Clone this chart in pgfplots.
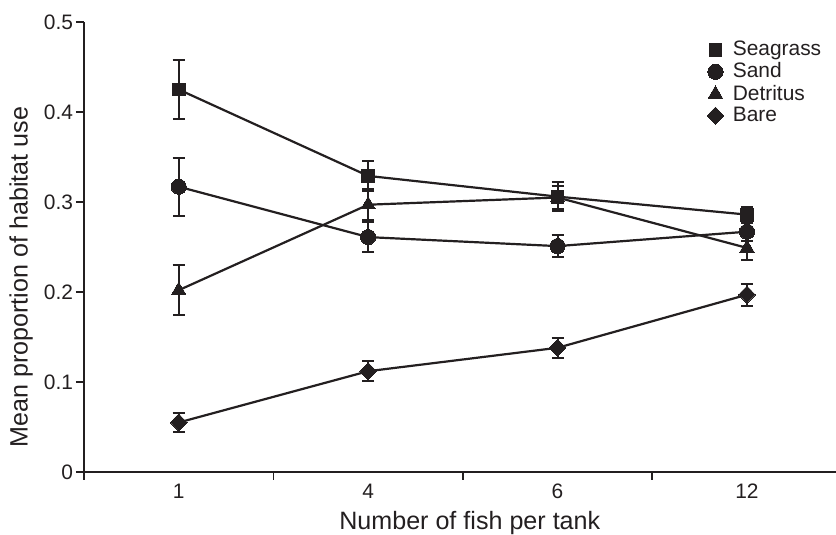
\documentclass[border=0pt]{standalone}
\usepackage{pgfplots}
\pgfplotsset{compat=1.18}
\usepackage{fontspec}
\setmainfont{Liberation Sans}
\definecolor{ink}{RGB}{35,31,32}
\begin{document}
\begin{tikzpicture}
\begin{axis}[
  at={(0,0)}, anchor=south west,
  width=376bp, height=225bp, scale only axis,
  xmin=-0.5, xmax=3.47, ymin=0, ymax=0.5,
  axis lines*=left,
  axis line style={ink, line width=1bp, -},
  xtick={0,1,2,3}, xticklabels={1,4,6,12},
  major x tick style={draw=none},
  minor xtick={-0.5,0.5,1.5,2.5},
  minor x tick style={ink, line width=0.9bp},
  ytick={0,0.1,0.2,0.3,0.4,0.5},
  yticklabels={0,0.1,0.2,0.3,0.4,0.5},
  y tick style={ink, line width=0.9bp},
  tick align=outside,
  major tick length=4bp, minor tick length=4bp,
  /pgf/number format/assume math mode=true,
  ticklabel style={font=\fontsize{10.5}{12}\selectfont, text=ink},
  xticklabel style={yshift=1.5bp},
  yticklabel style={xshift=2bp},
  xlabel={Number of fish per tank},
  ylabel={Mean proportion of habitat use},
  label style={font=\fontsize{12.6}{14}\selectfont, text=ink},
  xlabel style={at={(axis description cs:0.513,-0.113)}, anchor=center},
  ylabel style={at={(axis description cs:-0.0835,0.433)}, anchor=center, rotate=0},
  clip=false,
  legend style={draw=none, fill=none, at={(axis description cs:0.828,0.967)}, anchor=north west,
    font=\fontsize{10.5}{12}\selectfont, text=ink, row sep=-2bp, inner sep=0pt,
    /tikz/every odd column/.append style={column sep=2.5bp},
    /tikz/every even column/.append style={column sep=0bp}},
  legend cell align=left,
  legend image code/.code={\draw[mark repeat=2,mark phase=2,#1,only marks] plot coordinates {(0cm,0cm) (0.15cm,0cm) (0.3cm,0cm)};},
  error bars/error bar style={ink, line width=1bp},
  error bars/error mark options={rotate=90, mark size=3bp, line width=1bp, ink},
]
\addplot[ink, line width=1.1bp, mark=square*, mark size=3.2bp, mark options={fill=ink, draw=ink, line width=0pt},
  error bars/.cd, y dir=both, y explicit]
  coordinates {(0,0.425) +- (0,0.033) (1,0.329) +- (0,0.017) (2,0.306) +- (0,0.016) (3,0.286) +- (0,0.009)};
\addlegendentry{Seagrass}
\addplot[ink, line width=1.1bp, mark=*, mark size=3.8bp, mark options={fill=ink, draw=ink, line width=0pt},
  error bars/.cd, y dir=both, y explicit]
  coordinates {(0,0.317) +- (0,0.032) (1,0.261) +- (0,0.017) (2,0.251) +- (0,0.012) (3,0.267) +- (0,0.010)};
\addlegendentry{Sand}
\addplot[ink, line width=1.1bp, mark=triangle*, mark size=4.1bp, mark options={fill=ink, draw=ink, line width=0pt},
  error bars/.cd, y dir=both, y explicit]
  coordinates {(0,0.202) +- (0,0.028) (1,0.297) +- (0,0.017) (2,0.305) +- (0,0.013) (3,0.249) +- (0,0.013)};
\addlegendentry{Detritus}
\addplot[ink, line width=1.1bp, mark=diamond*, mark size=4.3bp, mark options={fill=ink, draw=ink, line width=0pt, xscale=1.3},
  error bars/.cd, y dir=both, y explicit]
  coordinates {(0,0.055) +- (0,0.011) (1,0.112) +- (0,0.011) (2,0.138) +- (0,0.011) (3,0.197) +- (0,0.012)};
\addlegendentry{Bare}
\end{axis}
\pgfresetboundingbox
\path[use as bounding box] (-42bp,-31.5bp) rectangle (376bp,236bp);
\end{tikzpicture}
\end{document}
